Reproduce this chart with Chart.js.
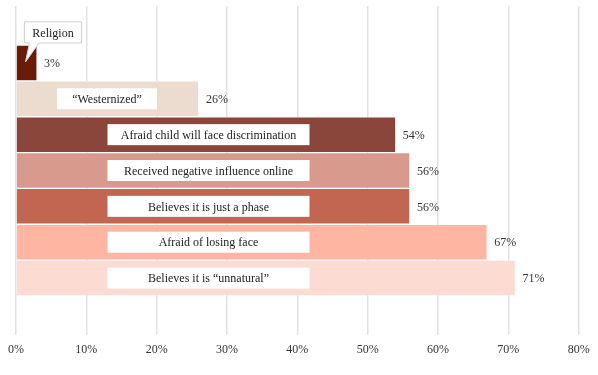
<!DOCTYPE html>
<html>
<head>
<meta charset="utf-8">
<script src="https://cdn.jsdelivr.net/npm/chart.js@4/dist/chart.umd.min.js"></script>
<style>
  html, body { margin: 0; padding: 0; background: #ffffff; }
  #wrap { width: 598px; height: 375px; position: relative; }
</style>
</head>
<body>
<div id="wrap"><canvas id="c" width="598" height="375"></canvas></div>
<script>
const categories = [
  'Religion',
  '\u201CWesternized\u201D',
  'Afraid child will face discrimination',
  'Received negative influence online',
  'Believes it is just a phase',
  'Afraid of losing face',
  'Believes it is \u201Cunnatural\u201D'
];
const values = [3, 26, 54, 56, 56, 67, 71];
const tickValues = [0, 10, 20, 30, 40, 50, 60, 70, 80];
const tickSuffix = '%';
const barColors = ['#6b1b08', '#ecdcd0', '#8b463b', '#d99a8e', '#c26652', '#feb6a3', '#fcdcd2'];

const FONT = '"Liberation Serif", "DejaVu Serif", serif';

const labelPlugin = {
  id: 'labelPlugin',
  afterDatasetsDraw(chart) {
    const ctx = chart.ctx;
    const meta = chart.getDatasetMeta(0);
    const L = chart.chartArea.left;
    ctx.save();
    meta.data.forEach((bar, i) => {
      const y = bar.y;
      // value label
      ctx.font = '12px ' + FONT;
      ctx.fillStyle = '#333333';
      ctx.textAlign = 'left';
      ctx.textBaseline = 'middle';
      ctx.fillText(values[i] + tickSuffix, bar.x + 7, y + 1);

      let bx, by, bw, bh = 21;
      if (i === 0) {
        bx = L + 8.5; by = y - 41; bw = 57;
        // callout with pointer
        ctx.shadowColor = 'rgba(0,0,0,0.15)';
        ctx.shadowBlur = 2;
        ctx.fillStyle = '#ffffff';
        ctx.strokeStyle = '#d4d4d4';
        ctx.lineWidth = 1;
        ctx.beginPath();
        ctx.moveTo(bx, by);
        ctx.lineTo(bx + bw, by);
        ctx.lineTo(bx + bw, by + bh);
        ctx.lineTo(L + 23, by + bh);
        ctx.lineTo(L + 9.5, y - 1);
        ctx.lineTo(L + 13.5, by + bh);
        ctx.lineTo(bx, by + bh);
        ctx.closePath();
        ctx.fill();
        ctx.shadowColor = 'transparent';
        ctx.stroke();
        ctx.fillStyle = '#222222';
        ctx.textAlign = 'center';
        ctx.fillText(categories[i], bx + bw / 2, by + bh / 2 + 1);
        return;
      } else if (i === 1) {
        bx = L + 41; bw = 100;
      } else {
        bx = L + 91.5; bw = 202;
      }
      by = y - bh / 2;
      ctx.fillStyle = '#ffffff';
      ctx.fillRect(bx, by, bw, bh);
      ctx.fillStyle = '#222222';
      ctx.textAlign = 'center';
      ctx.fillText(categories[i], bx + bw / 2, y + 1);
    });
    ctx.restore();
  }
};

new Chart(document.getElementById('c'), {
  type: 'bar',
  data: {
    labels: categories,
    datasets: [{
      data: values,
      backgroundColor: barColors,
      borderColor: 'rgba(255,255,255,0.35)',
      borderWidth: 1,
      barPercentage: 1,
      categoryPercentage: 1
    }]
  },
  options: {
    indexAxis: 'y',
    responsive: false,
    animation: false,
    events: [],
    layout: { padding: { left: 15.5, right: 19.3, top: 6, bottom: 0 } },
    plugins: { legend: { display: false }, tooltip: { enabled: false } },
    scales: {
      y: { type: 'category', display: false },
      x: {
        position: 'bottom',
        min: 0, max: 80,
        afterBuildTicks: (s) => { s.ticks = tickValues.map(v => ({ value: v })); },
        ticks: {
          callback: (v) => v + tickSuffix,
          font: { family: FONT, size: 12 },
          color: '#333333',
          padding: 8,
          maxRotation: 0
        },
        grid: { color: '#e2e2e2', lineWidth: 1.5, tickLength: 39, drawTicks: true },
        border: { display: false },
        afterFit: (s) => { s.height = 79; }
      },
      x2: {
        position: 'top',
        min: 0, max: 80,
        afterBuildTicks: (s) => { s.ticks = tickValues.map(v => ({ value: v })); },
        ticks: { display: false },
        grid: { color: '#e2e2e2', lineWidth: 1.5, tickLength: 39, drawTicks: true, drawOnChartArea: false },
        border: { display: false },
        afterFit: (s) => { s.height = 39; }
      }
    }
  },
  plugins: [labelPlugin]
});
</script>
</body>
</html>
